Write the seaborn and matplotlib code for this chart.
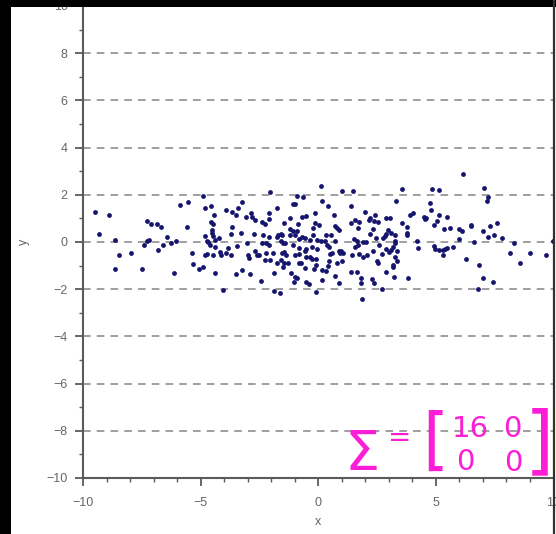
import matplotlib
matplotlib.use("Agg")
import matplotlib.pyplot as plt
import seaborn as sns
import pandas as pd
from matplotlib.patches import Rectangle
from matplotlib.lines import Line2D
from matplotlib.ticker import MultipleLocator

# ---- sample coordinates -------------------------------------------------
x_vals = [
    # far left
    -9.50, -9.33, -8.89, -8.65, -8.47, -8.62, -7.94, -7.50, -7.29, -7.11,
    -6.87, -6.68, -7.29, -7.19, -7.39, -6.80, -6.62,
    # x in [-6.6, -3.2]
    -5.86, -5.55, -4.91, -4.81, -4.55, -4.43, -4.58, -4.47, -5.57, -6.43,
    -6.03, -6.26, -4.52, -4.50, -4.81, -4.47, -4.75, -4.68, -4.41, -4.24,
    -4.60, -4.40, -3.91, -3.65, -3.49, -3.40, -3.26, -3.65, -3.73, -3.28,
    -5.35, -5.32, -5.06, -4.89, -6.14, -4.81, -4.74, -4.47, -4.16, -4.13,
    -3.94, -3.82, -3.69, -3.45, -4.37, -3.49, -3.24, -4.03,
    # x in [-3.2, 0.2]
    0.11, -2.07, -0.92, -0.64, 0.16, -1.09, -0.98, -1.74, -3.05, -2.85,
    -2.82, -2.69, -2.40, -2.28, -2.10, -2.08, -1.46, -1.21, -0.87, -0.71,
    -0.54, -0.14, -0.13, -0.23, 0.04, -1.19, -1.08, -0.89, -0.98, -1.21,
    -2.74, -2.34, -2.08, -1.72, -1.60, -1.52, -1.77, -1.59, -1.49, -1.42,
    -0.67, -0.82, -0.55, -0.35, -0.07, 0.10, -0.21, -3.02, -2.40, -2.20,
    -2.10, -1.09, -0.81, -0.57, -0.50, -0.28, -0.04, -2.97, -2.69, -2.62,
    -2.51, -2.23, -1.91, -1.55, -1.46, -1.39, -0.98, -0.81, -0.53, -0.33,
    -0.27, -0.11, -2.94, -2.26, -2.06, -1.74, -1.57, -1.46, -1.29, -1.49,
    -0.81, -0.72, -0.55, -0.18, -0.09, 0.18, -2.88, -1.86, -1.14, -1.00,
    -0.89, -1.04, -2.43, -0.50, -0.41, 0.18, -1.87, -1.62, -0.09,
    # x in [0.2, 3.6]
    0.99, 1.49, 3.56, 3.31, 0.41, 1.40, 2.00, 0.68, 2.41, 2.20,
    2.14, 1.39, 1.55, 1.73, 1.67, 0.72, 0.78, 0.87, 2.38, 2.54,
    2.31, 2.87, 3.05, 2.96, 2.88, 2.82, 2.74, 3.08, 3.25, 3.56,
    2.20, 2.45, 0.34, 0.55, 0.70, 0.30, 0.38, 0.47, 0.52, 0.58,
    0.87, 0.98, 1.04, 0.92, 1.52, 1.63, 1.69, 1.58, 1.92, 2.03,
    1.43, 1.74, 1.89, 2.06, 2.57, 2.34, 2.71, 2.48, 2.55, 2.88,
    3.02, 3.11, 3.19, 3.25, 3.25, 3.33, 3.28, 3.33, 3.16, 3.19,
    3.22, 2.88, 0.47, 0.41, 0.35, 0.78, 1.00, 0.72, 0.89, 1.39,
    1.63, 1.80, 1.80, 2.27, 2.38, 2.70, 1.84,
    # x in [3.6, 7.0]
    6.17, 4.84, 5.15, 7.05, 4.75, 4.81, 3.90, 4.04, 4.50, 4.58,
    4.52, 5.12, 5.49, 5.04, 4.92, 3.76, 3.76, 3.76, 5.35, 5.58,
    6.00, 6.12, 6.51, 6.48, 7.02, 6.00, 6.62, 4.18, 4.24, 4.92,
    4.95, 5.15, 5.32, 5.40, 5.49, 5.74, 5.32, 6.28, 6.82, 7.02,
    3.82, 6.79,
    # far right
    7.22, 7.16, 7.59, 7.28, 7.22, 7.45, 7.82, 8.34, 8.13, 8.99,
    9.66, 8.58, 7.42, 9.97,
]

y_vals = [
    # far left
    1.26, 0.34, 1.13, 0.08, -0.54, -1.16, -0.48, -1.13, 0.88, 0.76,
    0.76, 0.62, 0.06, 0.07, -0.14, -0.34, -0.14,
    # x in [-6.6, -3.2]
    1.55, 1.71, 1.96, 1.45, 1.51, 1.16, 0.86, 0.78, 0.64, 0.21,
    0.04, -0.06, 0.51, 0.38, 0.27, 0.25, 0.06, 0.00, 0.10, 0.16,
    -0.11, -0.20, 1.37, 1.27, 1.13, 1.43, 1.71, 0.64, 0.35, 0.37,
    -0.47, -0.95, -1.14, -1.07, -1.31, -0.56, -0.51, -0.54, -0.42, -0.54,
    -0.45, -0.27, -0.56, -0.17, -1.31, -1.34, -1.19, -2.05,
    # x in [-3.2, 0.2]
    2.37, 2.12, 1.96, 1.91, 1.75, 1.60, 1.60, 1.44, 1.06, 1.23,
    1.05, 0.92, 0.85, 0.78, 1.23, 0.97, 0.79, 1.02, 0.78, 1.05,
    1.12, 1.21, 0.81, 0.59, 0.73, 0.56, 0.45, 0.45, 0.31, 0.28,
    0.34, 0.31, 0.21, 0.31, 0.35, 0.31, 0.20, 0.03, -0.06, -0.03,
    0.23, 0.14, 0.17, 0.08, 0.08, 0.06, 0.31, -0.06, -0.06, -0.06,
    -0.11, -0.14, -0.25, -0.37, -0.31, -0.20, -0.28, -0.54, -0.37, -0.56,
    -0.54, -0.47, -0.48, -0.48, -0.42, -0.54, -0.56, -0.51, -0.62, -0.65,
    -0.73, -0.71, -0.68, -0.76, -0.75, -0.88, -0.76, -0.88, -0.90, -1.07,
    -0.88, -0.90, -1.10, -1.13, -0.96, -1.19, -1.36, -1.33, -1.33, -1.47,
    -1.53, -1.69, -1.67, -1.71, -1.78, -1.60, -2.09, -2.18, -2.12,
    # x in [0.2, 3.6]
    2.15, 2.15, 2.26, 1.72, 1.54, 1.51, 1.27, 1.13, 1.16, 1.02,
    0.93, 0.81, 0.93, 0.85, 0.59, 0.69, 0.59, 0.52, 0.88, 0.85,
    0.55, 1.02, 1.02, 0.52, 0.35, 0.25, 0.17, 0.37, 0.31, 0.82,
    0.34, 0.17, 0.28, 0.28, 0.03, 0.03, -0.14, -0.23, -0.51, -0.47,
    -0.37, -0.37, -0.48, -0.48, 0.14, 0.06, -0.11, -0.23, 0.00, 0.00,
    -0.54, -0.51, -0.62, -0.56, -0.11, -0.37, -0.51, -0.79, -0.88, -0.28,
    -0.42, -0.32, -0.23, -0.06, 0.06, -0.40, -0.62, -0.82, -0.96, -1.05,
    -1.47, -1.27, -0.82, -1.03, -1.21, -0.89, -0.79, -1.45, -1.72, -1.27,
    -1.27, -1.53, -1.75, -1.55, -1.74, -2.01, -2.43,
    # x in [3.6, 7.0]
    2.88, 2.26, 2.22, 2.30, 1.64, 1.36, 1.16, 1.21, 1.05, 1.02,
    0.96, 1.13, 1.05, 0.90, 0.71, 0.65, 0.38, 0.31, 0.56, 0.59,
    0.56, 0.48, 0.73, 0.66, 0.48, 0.11, 0.00, 0.03, -0.27, -0.17,
    -0.28, -0.34, -0.34, -0.28, -0.25, -0.20, -0.54, -0.71, -0.99, -1.54,
    -1.53, -2.01,
    # far right
    1.89, 1.72, 0.79, 0.68, 0.20, 0.31, 0.17, -0.06, -0.45, -0.48,
    -0.54, -0.89, -1.68, 0.04,
]

x_ticks = [-10, -5, 0, 5, 10]
y_ticks = [-10, -8, -6, -4, -2, 0, 2, 4, 6, 8, 10]
matrix_rows = [["16", "0"], ["0", "0"]]

# ---- figure ---------------------------------------------------------------
sns.set_style("white")
plt.rcParams["font.family"] = ["Liberation Sans", "DejaVu Sans"]

W, H = 556, 534
fig = plt.figure(figsize=(W / 100, H / 100), dpi=100)
fig.patch.set_facecolor("white")


def fx(px):
    return px / W


def fy(py):
    return 1 - py / H


ax = fig.add_axes([fx(83), fy(478), fx(553.5) - fx(83), fy(6) - fy(478)])
ax.set_facecolor("white")

df = pd.DataFrame({"x": x_vals, "y": y_vals})
sns.scatterplot(data=df, x="x", y="y", ax=ax, s=12, color="#15156e",
                linewidth=0, zorder=3)

ax.set_xlim(-10, 10)
ax.set_ylim(-10, 10)
ax.set_xticks(x_ticks)
ax.set_yticks(y_ticks)
ax.set_xticklabels([str(v).replace("-", "\u2212") for v in x_ticks])
ax.set_yticklabels([str(v).replace("-", "\u2212") for v in y_ticks])
ax.xaxis.set_minor_locator(MultipleLocator(1))
ax.yaxis.set_minor_locator(MultipleLocator(1))

# dashed horizontal guides
for yv in y_ticks:
    ax.axhline(yv, color="#858585", lw=1.1, ls=(0, (5, 4)), zorder=1)

for side in ("top", "right"):
    ax.spines[side].set_visible(False)
for side in ("left", "bottom"):
    ax.spines[side].set_color("#5a5a5a")
    ax.spines[side].set_linewidth(1.5)
    ax.spines[side].set_zorder(4)

ax.tick_params(which="both", bottom=True, left=True, direction="out",
               color="#5a5a5a")
ax.tick_params(which="major", length=6, width=1.3, labelsize=9,
               labelcolor="#666666")
ax.tick_params(which="minor", length=3, width=1.0)
ax.tick_params(axis="x", which="major", pad=8)
ax.tick_params(axis="y", which="major", pad=5)

ax.set_xlabel("x", color="#666666", fontsize=9, labelpad=5)
ax.set_ylabel("y", color="#666666", fontsize=9, labelpad=12)

# ---- screen frame ---------------------------------------------------------
fig.add_artist(Rectangle((0, 0), fx(11), 1, transform=fig.transFigure,
                         facecolor="black", edgecolor="none", zorder=20))
fig.add_artist(Rectangle((0, fy(7)), 1, 1 - fy(7), transform=fig.transFigure,
                         facecolor="black", edgecolor="none", zorder=20))
fig.add_artist(Line2D([fx(553.8), fx(553.8)], [0, 1], transform=fig.transFigure,
                      color="#303030", lw=1.6, zorder=20))

# ---- covariance note --------------------------------------------------------
pink = "#fb1ed6"
note = dict(transform=fig.transFigure, color=pink, family="DejaVu Sans",
            ha="center", va="baseline", zorder=21)
fig.text(fx(362), fy(470), "\u03a3", fontsize=40, **note)
fig.text(fx(400), fy(446), "=", fontsize=20, **note)
fig.text(fx(435), fy(462), "[", fontsize=48, **note)
fig.text(fx(539), fy(464), "]", fontsize=54, **note)
fig.text(fx(470), fy(437), matrix_rows[0][0], fontsize=21, **note)
fig.text(fx(512), fy(437), matrix_rows[0][1], fontsize=21, **note)
fig.text(fx(465), fy(470), matrix_rows[1][0], fontsize=21, **note)
fig.text(fx(513), fy(471), matrix_rows[1][1], fontsize=21, **note)

fig.savefig("out.png", dpi=100, facecolor=fig.get_facecolor())
